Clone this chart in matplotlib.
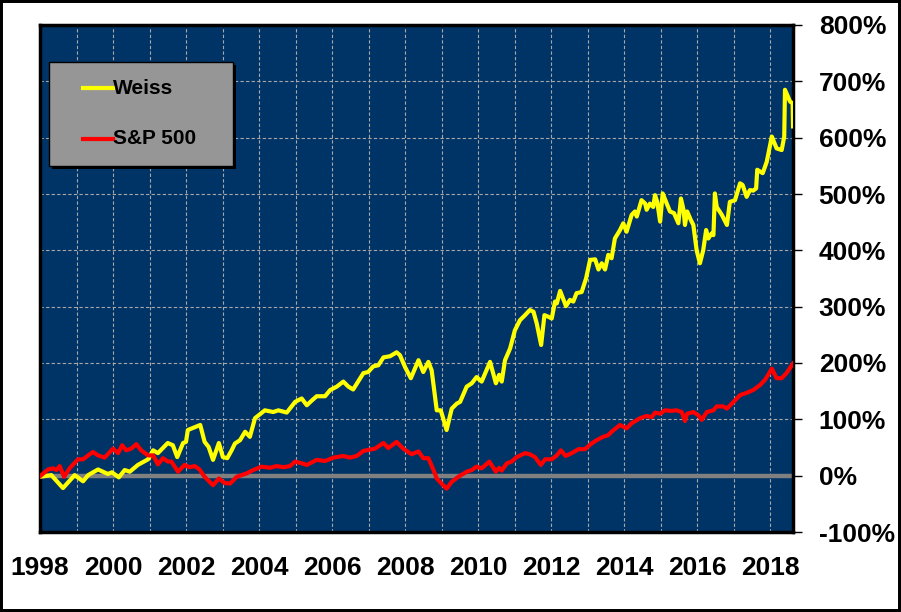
import matplotlib
matplotlib.use("Agg")
import matplotlib.pyplot as plt
from matplotlib.patches import Rectangle
from matplotlib.lines import Line2D
from matplotlib.ticker import MultipleLocator, FuncFormatter

# Weiss vs S&P 500, cumulative return (%)
weiss_dates = [1998.00, 1998.31, 1998.63, 1998.95, 1999.18, 1999.32, 1999.59, 1999.86, 1999.97,
               2000.16, 2000.32, 2000.46, 2000.68, 2000.96, 2001.10, 2001.23, 2001.50, 2001.64,
               2001.76, 2001.92, 2002.00, 2002.05, 2002.24, 2002.39, 2002.51, 2002.62, 2002.74,
               2002.90, 2003.01, 2003.13, 2003.25, 2003.34, 2003.48, 2003.62, 2003.75, 2003.89,
               2004.16, 2004.39, 2004.53, 2004.76, 2004.99, 2005.17, 2005.31, 2005.44, 2005.58,
               2005.81, 2005.95, 2006.13, 2006.31, 2006.45, 2006.58, 2006.86, 2006.99, 2007.13,
               2007.27, 2007.41, 2007.59, 2007.77, 2007.86, 2008.00, 2008.16, 2008.37, 2008.50,
               2008.64, 2008.73, 2008.87, 2008.98, 2009.14, 2009.28, 2009.42, 2009.51, 2009.69,
               2009.83, 2009.96, 2010.10, 2010.33, 2010.49, 2010.58, 2010.65, 2010.74, 2010.88,
               2011.01, 2011.15, 2011.29, 2011.42, 2011.52, 2011.61, 2011.73, 2011.82, 2011.93,
               2012.02, 2012.11, 2012.16, 2012.25, 2012.41, 2012.52, 2012.61, 2012.70, 2012.84,
               2012.96, 2013.07, 2013.21, 2013.30, 2013.39, 2013.48, 2013.57, 2013.66, 2013.75,
               2013.89, 2013.98, 2014.07, 2014.21, 2014.30, 2014.35, 2014.48, 2014.58, 2014.62,
               2014.71, 2014.80, 2014.85, 2014.91, 2014.99, 2015.06, 2015.17, 2015.26, 2015.37,
               2015.49, 2015.56, 2015.63, 2015.67, 2015.73, 2015.83, 2015.90, 2015.99, 2016.08,
               2016.17, 2016.25, 2016.31, 2016.40, 2016.45, 2016.49, 2016.54, 2016.68, 2016.82,
               2016.90, 2017.04, 2017.18, 2017.25, 2017.36, 2017.45, 2017.54, 2017.62, 2017.65,
               2017.80, 2017.91, 2018.05, 2018.18, 2018.32, 2018.39, 2018.41, 2018.55, 2018.62,
               2018.63]
weiss_values = [-2, 1, -22, 1, -10, 1, 11, 3, 6,
                -3, 10, 7, 19, 29, 45, 40, 58, 54,
                33, 58, 60, 81, 86, 90, 60, 51, 28,
                58, 33, 31, 45, 57, 63, 78, 69, 102,
                116, 113, 116, 112, 131, 137, 125, 133, 141,
                141, 152, 158, 167, 158, 153, 182, 184, 194,
                196, 210, 212, 219, 214, 193, 173, 205, 184,
                202, 187, 116, 116, 81, 119, 128, 131, 158,
                164, 175, 167, 202, 164, 179, 167, 205, 226,
                258, 276, 285, 294, 291, 270, 232, 285, 282,
                279, 309, 306, 328, 301, 312, 309, 324, 326,
                350, 383, 384, 366, 377, 366, 392, 386, 421,
                436, 448, 433, 463, 469, 460, 489, 483, 472,
                483, 477, 498, 486, 451, 501, 483, 469, 466,
                448, 492, 472, 445, 469, 454, 445, 400, 377,
                400, 436, 421, 430, 427, 501, 477, 463, 445,
                486, 489, 519, 516, 495, 507, 506, 510, 543,
                537, 557, 602, 581, 578, 602, 685, 664, 661,
                620]

sp_dates = [1998.00, 1998.22, 1998.36, 1998.45, 1998.54, 1998.66, 1998.81, 1999.04, 1999.18,
            1999.32, 1999.45, 1999.59, 1999.77, 2000.00, 2000.14, 2000.25, 2000.36, 2000.50,
            2000.64, 2000.77, 2000.96, 2001.10, 2001.23, 2001.37, 2001.50, 2001.60, 2001.78,
            2001.96, 2002.10, 2002.24, 2002.37, 2002.51, 2002.74, 2002.90, 2003.06, 2003.21,
            2003.39, 2003.66, 2003.84, 2004.07, 2004.30, 2004.48, 2004.67, 2004.85, 2004.99,
            2005.17, 2005.31, 2005.58, 2005.81, 2006.04, 2006.31, 2006.49, 2006.68, 2006.86,
            2007.18, 2007.41, 2007.54, 2007.77, 2007.95, 2008.18, 2008.37, 2008.50, 2008.64,
            2008.78, 2008.87, 2009.00, 2009.14, 2009.28, 2009.46, 2009.69, 2009.83, 2009.96,
            2010.10, 2010.31, 2010.49, 2010.58, 2010.65, 2010.79, 2010.92, 2011.06, 2011.29,
            2011.42, 2011.56, 2011.72, 2011.84, 2012.02, 2012.16, 2012.27, 2012.40, 2012.57,
            2012.75, 2012.93, 2013.11, 2013.25, 2013.43, 2013.57, 2013.66, 2013.89, 2014.07,
            2014.21, 2014.44, 2014.62, 2014.76, 2014.85, 2014.99, 2015.12, 2015.30, 2015.44,
            2015.58, 2015.67, 2015.73, 2015.90, 2016.04, 2016.13, 2016.27, 2016.45, 2016.54,
            2016.72, 2016.82, 2017.00, 2017.18, 2017.36, 2017.54, 2017.73, 2017.86, 2017.95,
            2018.05, 2018.18, 2018.32, 2018.45, 2018.63]
sp_values = [-1, 11, 13, 10, 17, -2, 13, 29, 29,
             36, 42, 36, 32, 48, 40, 54, 45, 48,
             56, 45, 36, 36, 20, 31, 25, 25, 7,
             19, 15, 17, 11, -2, -17, -5, -13, -14,
             -2, 4, 10, 16, 14, 17, 15, 17, 25,
             22, 19, 28, 26, 32, 35, 32, 35, 44,
             48, 58, 49, 60, 48, 38, 43, 31, 31,
             10, -5, -14, -23, -11, -2, 7, 10, 16,
             13, 25, 7, 14, 9, 22, 25, 33, 40,
             38, 33, 19, 29, 29, 36, 45, 35, 40,
             47, 47, 57, 63, 69, 72, 78, 90, 84,
             93, 102, 106, 104, 112, 110, 116, 115, 116,
             113, 97, 110, 113, 107, 99, 113, 116, 123,
             123, 119, 131, 143, 147, 152, 161, 170, 179,
             190, 173, 173, 182, 199]

year_ticks = list(range(1998, 2019, 2))
pct_ticks = list(range(-100, 801, 100))

W, H = 901, 612
fig = plt.figure(figsize=(W / 100, H / 100), dpi=100)
fig.patch.set_facecolor('white')

ax = fig.add_axes([40 / W, 80 / H, 753 / W, 507 / H])
ax.set_facecolor('#003366')

ax.axhline(0, color='#808080', lw=3.2, zorder=2)
ax.plot(weiss_dates, weiss_values, color='#ffff00', lw=3, zorder=3, solid_joinstyle='round')
ax.plot(sp_dates, sp_values, color='#ff0000', lw=3, zorder=4, solid_joinstyle='round')

ax.set_xlim(1998, 2018.63)
ax.set_ylim(-100, 800)

ax.set_xticks(year_ticks)
ax.xaxis.set_minor_locator(MultipleLocator(1))
ax.set_yticks(pct_ticks)
ax.yaxis.tick_right()
ax.yaxis.set_major_formatter(FuncFormatter(lambda v, p: '%d%%' % v))

ax.grid(True, which='both', color='#a8a8a8', ls=(0, (3, 2)), lw=0.8, zorder=1)
ax.tick_params(axis='x', which='both', length=0, pad=17, labelsize=19)
ax.tick_params(axis='y', which='major', length=6.5, width=1, pad=12, labelsize=19,
               direction='out', right=True, left=False)
for lab in ax.get_xticklabels() + ax.get_yticklabels():
    lab.set_fontweight('bold')
    lab.set_fontfamily('Liberation Sans')

for s in ax.spines.values():
    s.set_linewidth(2.5)
    s.set_color('black')

# legend box drawn by hand to match the original layout
def fx(x):
    return x / W

def fy(y):
    return 1 - y / H

fig.patches.append(Rectangle((fx(52), fy(169)), 184 / W, 104 / H, transform=fig.transFigure,
                             facecolor='black', edgecolor='none', zorder=10))
fig.patches.append(Rectangle((fx(49), fy(166)), 184 / W, 104 / H, transform=fig.transFigure,
                             facecolor='#969696', edgecolor='black', lw=1, zorder=11))
for name, col, y in [('Weiss', '#ffff00', 88), ('S&P 500', '#ff0000', 139)]:
    fig.lines.append(Line2D([fx(83), fx(113)], [fy(y), fy(y)], transform=fig.transFigure,
                            color=col, lw=3, zorder=12))
    fig.text(fx(113), fy(y), name, fontsize=15, fontweight='bold', family='Liberation Sans',
             va='center', ha='left', color='black', zorder=13)

# outer frame
fig.patches.append(Rectangle((0, 0), 1, 1, transform=fig.transFigure, fill=False,
                             edgecolor='black', lw=4.3, zorder=20))

fig.savefig('out.png', dpi=100)
